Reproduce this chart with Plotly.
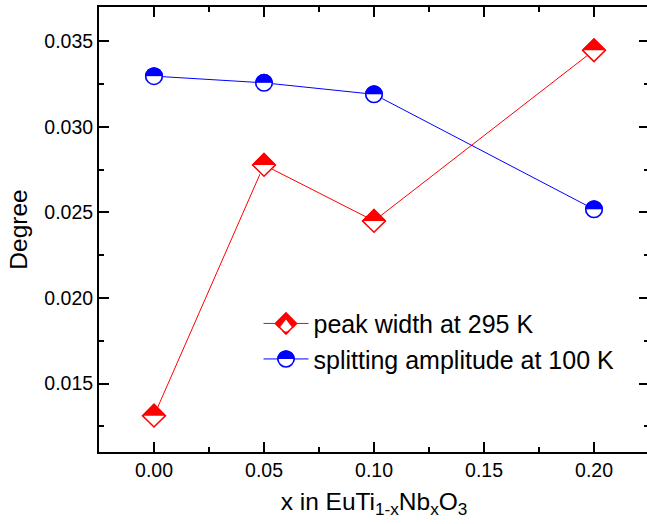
import plotly.graph_objects as go

# ---- data ----
x_vals = [0.00, 0.05, 0.10, 0.20]
peak_width_295K = [0.01312, 0.02777, 0.0245, 0.03447]
split_amp_100K = [0.03296, 0.03257, 0.0319, 0.02518]
name_red = "peak width at 295 K"
name_blue = "splitting amplitude at 100 K"

RED = "#ff0000"
BLUE = "#0000ff"
FONT = "Arial, Liberation Sans, sans-serif"

D_SIZE = 17.4   # diamond marker size
C_SIZE = 16.5   # circle marker size
LEG_MAX = 16    # plotly caps legend symbol size at 16


def tri_size(diamond_size):
    # triangle-down (half-width 1.1547 r) whose base spans the diamond's width
    d = 1.3 * diamond_size / 2
    return 2 * d / 1.1547


def cover(symbol, size, legend_item):
    # white cover of the lower half of a marker; standoff is mirrored inside legends
    if legend_item:
        size = min(size, LEG_MAX)
    standoff = size / 4 if symbol.startswith("triangle") else size / 2
    return dict(symbol=symbol, size=size, color="white", line=dict(width=0),
                angle=180 if legend_item else 0, standoff=standoff)


fig = go.Figure()

# layer 1: lines + fully filled markers
fig.add_trace(go.Scatter(x=x_vals, y=peak_width_295K, name=name_red, mode="lines+markers",
                         line=dict(color=RED, width=1),
                         marker=dict(symbol="diamond", size=D_SIZE, color=RED, line=dict(color=RED, width=1.5)),
                         legend="legend"))
fig.add_trace(go.Scatter(x=x_vals, y=split_amp_100K, name=name_blue, mode="lines+markers",
                         line=dict(color=BLUE, width=1),
                         marker=dict(symbol="circle", size=C_SIZE, color=BLUE, line=dict(color=BLUE, width=1.5)),
                         legend="legend"))
# layer 2: white covers of the lower half (plot area)
fig.add_trace(go.Scatter(x=x_vals, y=peak_width_295K, name=name_red, mode="markers",
                         marker=cover("triangle-down", tri_size(D_SIZE), False), showlegend=False,
                         hoverinfo="skip"))
fig.add_trace(go.Scatter(x=x_vals, y=split_amp_100K, name=name_blue, mode="markers",
                         marker=cover("square", C_SIZE, False), showlegend=False, hoverinfo="skip"))
# layer 2b: same covers for the legend symbols (on hidden axes, clipped out of the plot)
fig.add_trace(go.Scatter(x=x_vals, y=peak_width_295K, name=name_red, mode="markers",
                         marker=cover("triangle-down", tri_size(LEG_MAX), True), legend="legend2",
                         xaxis="x2", yaxis="y2", hoverinfo="skip"))
fig.add_trace(go.Scatter(x=x_vals, y=split_amp_100K, name=name_blue, mode="markers",
                         marker=cover("square", C_SIZE, True), legend="legend2",
                         xaxis="x2", yaxis="y2", hoverinfo="skip"))
# layer 3: outlines
fig.add_trace(go.Scatter(x=x_vals, y=peak_width_295K, name=name_red, mode="markers",
                         marker=dict(symbol="diamond", size=D_SIZE, color="rgba(0,0,0,0)",
                                     line=dict(color=RED, width=1.5)),
                         legend="legend3"))
fig.add_trace(go.Scatter(x=x_vals, y=split_amp_100K, name=name_blue, mode="markers",
                         marker=dict(symbol="circle", size=C_SIZE, color="rgba(0,0,0,0)",
                                     line=dict(color=BLUE, width=1.5)),
                         legend="legend3"))

leg_common = dict(x=0.29, y=0.34, xanchor="left", yanchor="top",
                  bgcolor="rgba(0,0,0,0)", borderwidth=0, itemwidth=45,
                  tracegroupgap=0)
fig.update_layout(
    width=651, height=524,
    margin=dict(l=99, r=0, t=7, b=72),
    paper_bgcolor="white", plot_bgcolor="white",
    font=dict(family=FONT, color="black"),
    legend=dict(**leg_common, font=dict(family=FONT, size=25, color="black")),
    legend2=dict(**leg_common, font=dict(family=FONT, size=25, color="rgba(0,0,0,0)")),
    legend3=dict(**leg_common, font=dict(family=FONT, size=25, color="rgba(0,0,0,0)")),
    xaxis2=dict(overlaying="x", visible=False, range=[10, 11]),
    yaxis2=dict(overlaying="y", visible=False, range=[10, 11]),
)

axis_common = dict(showgrid=False, zeroline=False, showline=True, linecolor="black", linewidth=2,
                   mirror="ticks", ticks="inside", ticklen=10, tickwidth=2, tickcolor="black",
                   tickfont=dict(family=FONT, size=19.5, color="black"))
fig.update_layout(
    xaxis=dict(**axis_common, range=[-0.025, 0.225], tick0=0, dtick=0.05, tickformat=".2f",
               minor=dict(ticks="inside", dtick=0.025, ticklen=5, tickwidth=2, tickcolor="black"),
               title=dict(text="x in EuTi<sub>1-x</sub>Nb<sub>x</sub>O<sub>3</sub>",
                          font=dict(family=FONT, size=24.5), standoff=12)),
    yaxis=dict(**axis_common, range=[0.011, 0.037], tick0=0.015, dtick=0.005, tickformat=".3f",
               minor=dict(ticks="inside", dtick=0.0025, ticklen=5, tickwidth=2, tickcolor="black"),
               title=dict(text="Degree", font=dict(family=FONT, size=24.5), standoff=10)),
)

fig.write_html("out.html",
               post_script="document.documentElement.style.overflow='hidden';document.body.style.overflow='hidden';")
